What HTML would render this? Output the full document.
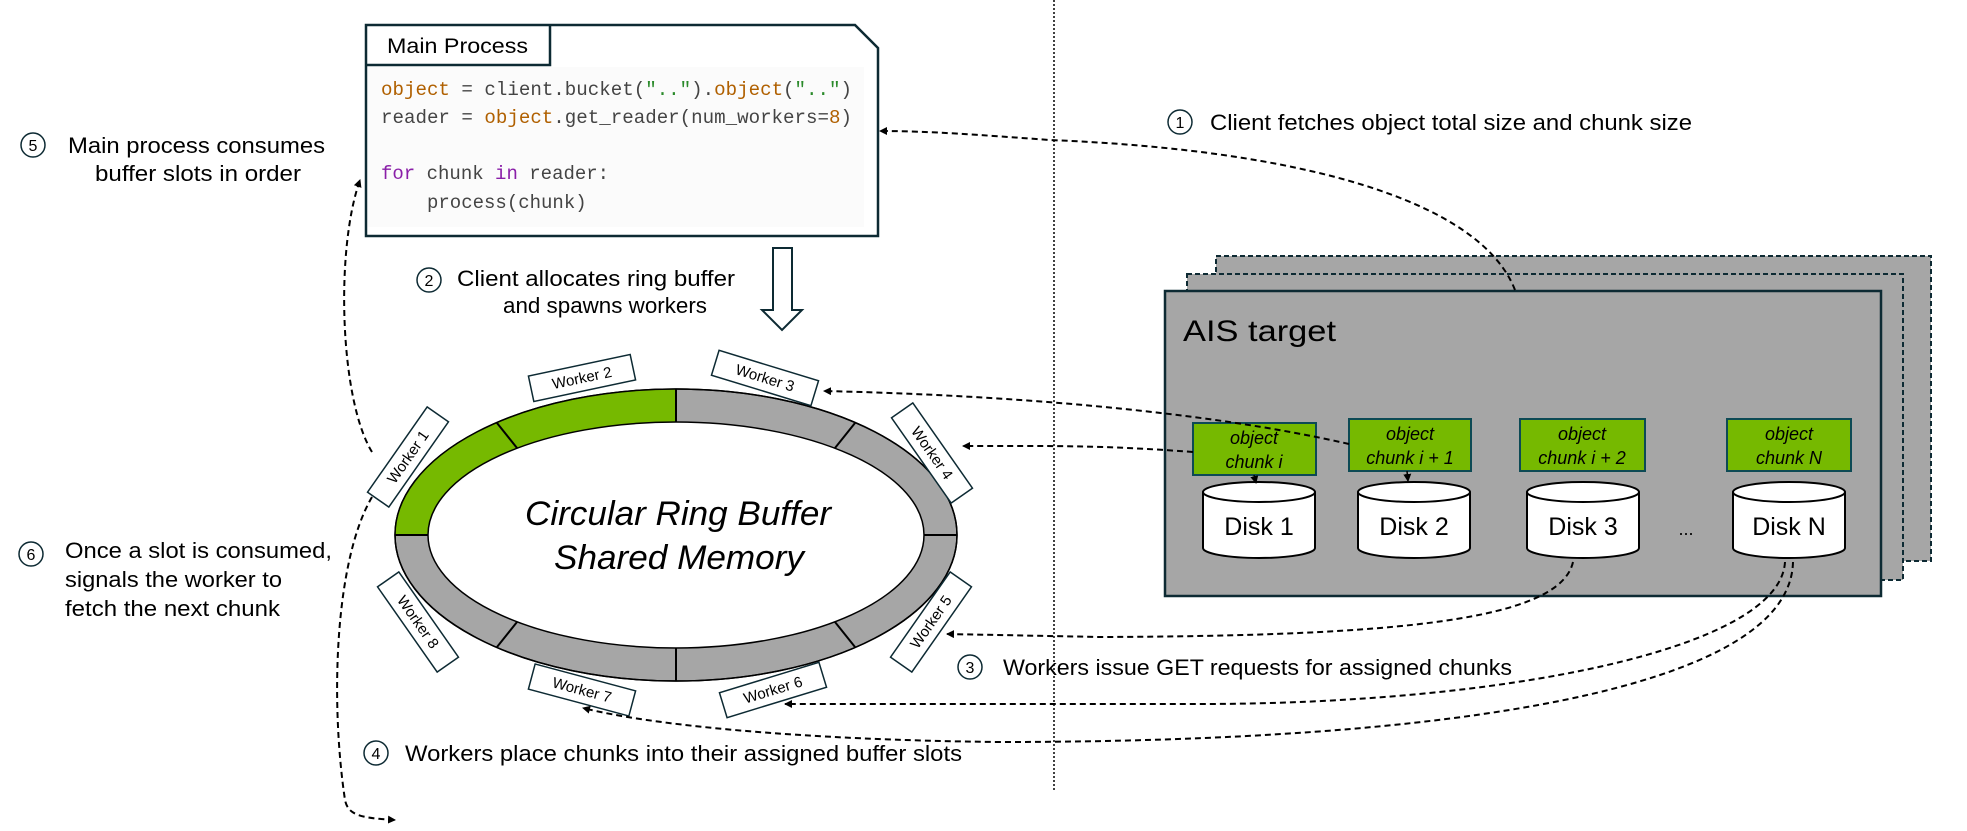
<!DOCTYPE html>
<html><head><meta charset="utf-8"><style>
html,body{margin:0;padding:0;background:#fff;}
svg{display:block;}
text{font-family:"Liberation Sans",sans-serif;fill:#000;}
.m{font-family:"Liberation Mono",monospace;font-size:19px;fill:#444;}
</style></head><body>
<svg width="1967" height="831" viewBox="0 0 1967 831" xmlns="http://www.w3.org/2000/svg">
<defs>
<marker id="ah" markerWidth="8" markerHeight="8" refX="7" refY="4" orient="auto" markerUnits="userSpaceOnUse">
<path d="M0,0 L8,4 L0,8 Z" fill="#000"/></marker>
</defs>

<!-- vertical dotted divider -->
<line x1="1054" y1="0" x2="1054" y2="790" stroke="#000" stroke-width="1.5" stroke-dasharray="2,2"/>

<!-- Main process box -->
<path d="M366,25 L855,25 L878,48 L878,236 L366,236 Z" fill="#fff" stroke="#0d2a33" stroke-width="2.5"/>
<rect x="368" y="67" width="496" height="160" fill="#fbfbfb"/>
<path d="M366,65 L550,65 L550,25" fill="none" stroke="#0d2a33" stroke-width="2.5"/>
<text x="387" y="53" font-size="21" textLength="141" lengthAdjust="spacingAndGlyphs">Main Process</text>
<text class="m" x="381" y="95" textLength="471" lengthAdjust="spacingAndGlyphs"><tspan fill="#b06000">object</tspan> = client.bucket(<tspan fill="#2a8a2a">".."</tspan>).<tspan fill="#b06000">object</tspan>(<tspan fill="#2a8a2a">".."</tspan>)</text>
<text class="m" x="381" y="123" textLength="471" lengthAdjust="spacingAndGlyphs">reader = <tspan fill="#b06000">object</tspan>.get_reader(num_workers=<tspan fill="#b06000">8</tspan>)</text>
<text class="m" x="381" y="179"><tspan fill="#8a1fa8">for</tspan> chunk <tspan fill="#8a1fa8">in</tspan> reader:</text>
<text class="m" x="427" y="208">process(chunk)</text>

<!-- hollow down arrow -->
<path d="M773,248 L792,248 L792,310 L802,310 L782,330 L762,310 L773,310 Z" fill="#fff" stroke="#0d2a33" stroke-width="2"/>

<!-- step labels -->
<g font-size="22" lengthAdjust="spacingAndGlyphs">
<circle cx="33" cy="145" r="12" fill="none" stroke="#0d2a33" stroke-width="1.5"/><text x="33" y="151" text-anchor="middle" font-size="16">5</text>
<text x="68" y="153" textLength="257" lengthAdjust="spacingAndGlyphs">Main process consumes</text>
<text x="95" y="181" textLength="206" lengthAdjust="spacingAndGlyphs">buffer slots in order</text>

<circle cx="429" cy="280" r="12" fill="none" stroke="#0d2a33" stroke-width="1.5"/><text x="429" y="286" text-anchor="middle" font-size="16">2</text>
<text x="457" y="286" textLength="278" lengthAdjust="spacingAndGlyphs">Client allocates ring buffer</text>
<text x="503" y="313" textLength="204" lengthAdjust="spacingAndGlyphs">and spawns workers</text>

<circle cx="1180" cy="122" r="12" fill="none" stroke="#0d2a33" stroke-width="1.5"/><text x="1180" y="128" text-anchor="middle" font-size="16">1</text>
<text x="1210" y="130" textLength="482" lengthAdjust="spacingAndGlyphs">Client fetches object total size and chunk size</text>

<circle cx="31" cy="554" r="12" fill="none" stroke="#0d2a33" stroke-width="1.5"/><text x="31" y="560" text-anchor="middle" font-size="16">6</text>
<text x="65" y="558" textLength="267" lengthAdjust="spacingAndGlyphs">Once a slot is consumed,</text>
<text x="65" y="587" textLength="217" lengthAdjust="spacingAndGlyphs">signals the worker to</text>
<text x="65" y="616" textLength="215" lengthAdjust="spacingAndGlyphs">fetch the next chunk</text>

<circle cx="970" cy="667" r="12" fill="none" stroke="#0d2a33" stroke-width="1.5"/><text x="970" y="673" text-anchor="middle" font-size="16">3</text>
<text x="1003" y="675" textLength="509" lengthAdjust="spacingAndGlyphs">Workers issue GET requests for assigned chunks</text>

<circle cx="376" cy="753" r="12" fill="none" stroke="#0d2a33" stroke-width="1.5"/><text x="376" y="759" text-anchor="middle" font-size="16">4</text>
<text x="405" y="761" textLength="557" lengthAdjust="spacingAndGlyphs">Workers place chunks into their assigned buffer slots</text>
</g>

<!-- ring -->
<ellipse cx="676" cy="535" rx="281" ry="146" fill="#a6a6a6" stroke="#000" stroke-width="1.5"/>
<path d="M395,535 A281,146 0 0 1 676,389 L676,422 A248,113 0 0 0 428,535 Z" fill="#76b900"/>
<ellipse cx="676" cy="535" rx="281" ry="146" fill="none" stroke="#000" stroke-width="1.5"/>
<ellipse cx="676" cy="535" rx="248" ry="113" fill="#fff" stroke="#000" stroke-width="1.5"/>
<g stroke="#000" stroke-width="2">
<line x1="676" y1="389" x2="676" y2="422"/>
<line x1="676" y1="648" x2="676" y2="681"/>
<line x1="395" y1="535" x2="428" y2="535"/>
<line x1="924" y1="535" x2="957" y2="535"/>
<line x1="497" y1="423" x2="517" y2="448"/>
<line x1="855" y1="423" x2="835" y2="448"/>
<line x1="497" y1="647" x2="517" y2="622"/>
<line x1="855" y1="647" x2="835" y2="622"/>
</g>
<text x="525" y="525" font-size="34" font-style="italic" textLength="306" lengthAdjust="spacingAndGlyphs">Circular Ring Buffer</text>
<text x="554" y="569" font-size="34" font-style="italic" textLength="250" lengthAdjust="spacingAndGlyphs">Shared Memory</text>

<!-- worker labels -->
<g font-size="15" text-anchor="middle">
<g transform="translate(408,457) rotate(-55)"><rect x="-52" y="-13" width="104" height="26" fill="#fff" stroke="#0d2a33" stroke-width="1.5"/><text y="5">Worker 1</text></g>
<g transform="translate(582,378) rotate(-12)"><rect x="-52" y="-13" width="104" height="26" fill="#fff" stroke="#0d2a33" stroke-width="1.5"/><text y="5">Worker 2</text></g>
<g transform="translate(765,378) rotate(17)"><rect x="-52" y="-13" width="104" height="26" fill="#fff" stroke="#0d2a33" stroke-width="1.5"/><text y="5">Worker 3</text></g>
<g transform="translate(932,453) rotate(55)"><rect x="-52" y="-13" width="104" height="26" fill="#fff" stroke="#0d2a33" stroke-width="1.5"/><text y="5">Worker 4</text></g>
<g transform="translate(931,622) rotate(-55)"><rect x="-52" y="-13" width="104" height="26" fill="#fff" stroke="#0d2a33" stroke-width="1.5"/><text y="5">Worker 5</text></g>
<g transform="translate(773,690) rotate(-17)"><rect x="-52" y="-13" width="104" height="26" fill="#fff" stroke="#0d2a33" stroke-width="1.5"/><text y="5">Worker 6</text></g>
<g transform="translate(582,690) rotate(15)"><rect x="-52" y="-13" width="104" height="26" fill="#fff" stroke="#0d2a33" stroke-width="1.5"/><text y="5">Worker 7</text></g>
<g transform="translate(418,622) rotate(55)"><rect x="-52" y="-13" width="104" height="26" fill="#fff" stroke="#0d2a33" stroke-width="1.5"/><text y="5">Worker 8</text></g>
</g>

<!-- AIS target stack -->
<rect x="1216" y="256" width="715" height="305" fill="#a6a6a6" stroke="#0d2a33" stroke-width="2" stroke-dasharray="5,3"/>
<rect x="1187" y="274" width="716" height="306" fill="#a6a6a6" stroke="#0d2a33" stroke-width="2" stroke-dasharray="5,3"/>
<rect x="1165" y="291" width="716" height="305" fill="#a6a6a6" stroke="#0d2a33" stroke-width="2.5"/>
<text x="1183" y="341" font-size="30" textLength="153" lengthAdjust="spacingAndGlyphs">AIS target</text>

<g font-size="18" font-style="italic" text-anchor="middle" stroke-width="2">
<rect x="1193" y="423" width="123" height="52" fill="#76b900" stroke="#0d4a55"/>
<text x="1254" y="444">object</text><text x="1254" y="468">chunk i</text>
<rect x="1349" y="419" width="122" height="52" fill="#76b900" stroke="#0d4a55"/>
<text x="1410" y="440">object</text><text x="1410" y="464">chunk i + 1</text>
<rect x="1520" y="419" width="125" height="52" fill="#76b900" stroke="#0d4a55"/>
<text x="1582" y="440">object</text><text x="1582" y="464">chunk i + 2</text>
<rect x="1727" y="419" width="124" height="52" fill="#76b900" stroke="#0d4a55"/>
<text x="1789" y="440">object</text><text x="1789" y="464">chunk N</text>
</g>

<g stroke="#000" stroke-width="2" fill="#fff">
<path d="M1203,492 L1203,548 A56,10 0 0 0 1315,548 L1315,492 A56,10 0 0 0 1203,492 Z"/><path d="M1203,492 A56,10 0 0 0 1315,492" fill="none"/>
<path d="M1358,492 L1358,548 A56,10 0 0 0 1470,548 L1470,492 A56,10 0 0 0 1358,492 Z"/><path d="M1358,492 A56,10 0 0 0 1470,492" fill="none"/>
<path d="M1527,492 L1527,548 A56,10 0 0 0 1639,548 L1639,492 A56,10 0 0 0 1527,492 Z"/><path d="M1527,492 A56,10 0 0 0 1639,492" fill="none"/>
<path d="M1733,492 L1733,548 A56,10 0 0 0 1845,548 L1845,492 A56,10 0 0 0 1733,492 Z"/><path d="M1733,492 A56,10 0 0 0 1845,492" fill="none"/>
</g>
<g font-size="25" text-anchor="middle">
<text x="1259" y="535">Disk 1</text><text x="1414" y="535">Disk 2</text><text x="1583" y="535">Disk 3</text><text x="1789" y="535">Disk N</text>
</g>
<text x="1686" y="535" font-size="18" text-anchor="middle">...</text>

<!-- chunk to disk arrows -->
<g stroke="#000" stroke-width="1.5" fill="none" marker-end="url(#ah)">
<line x1="1254" y1="475" x2="1256" y2="483"/>
<line x1="1407" y1="471" x2="1408" y2="481"/>
</g>

<!-- dashed connectors -->
<g stroke="#000" stroke-width="2" fill="none" stroke-dasharray="6,4" marker-end="url(#ah)">
<path d="M1515,290 C1480,200 1300,150 1050,140 C980,135 930,131 880,131"/>
<path d="M1349,444 C1200,410 1000,395 824,391"/>
<path d="M1193,452 C1100,445 1050,446 963,446"/>
<path d="M1573,562 C1560,620 1400,636 1100,637 L947,634"/>
<path d="M1785,562 C1780,650 1500,704 1200,704 L785,704"/>
<path d="M1793,562 C1790,690 1450,742 1000,742 C800,740 650,725 583,708"/>
<path d="M372,452 C340,400 335,250 360,180"/>
<path d="M372,497 C335,560 330,700 345,800 C348,815 360,818 395,820"/>
</g>
</svg>
</body></html>
